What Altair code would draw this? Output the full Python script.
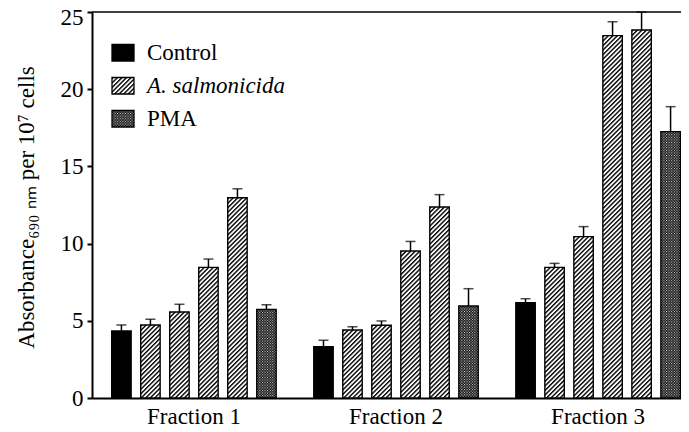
import altair as alt
import pandas as pd
from urllib.parse import quote

# ---- data ----
fractions = ["Fraction 1", "Fraction 2", "Fraction 3"]
series = ["Control", "A. salmonicida 1", "A. salmonicida 2",
          "A. salmonicida 3", "A. salmonicida 4", "PMA"]

f1_values = [4.34, 4.73, 5.57, 8.46, 12.97, 5.74]
f1_errors = [0.39, 0.37, 0.50, 0.54, 0.58, 0.30]
f2_values = [3.32, 4.40, 4.71, 9.52, 12.37, 5.96]
f2_errors = [0.42, 0.22, 0.28, 0.62, 0.80, 1.12]
f3_values = [6.17, 8.46, 10.45, 23.47, 23.83, 17.25]
f3_errors = [0.26, 0.26, 0.65, 0.90, 1.17, 1.62]

legend_labels = ["Control", "A. salmonicida", "PMA"]
y_ticks = [0, 5, 10, 15, 20, 25]
y_title = "Absorbance\u2086\u2089\u2080 \u2099\u2098 per 10\u2077 cells"

rows = []
for f, vals, errs in zip(fractions, [f1_values, f2_values, f3_values],
                         [f1_errors, f2_errors, f3_errors]):
    for s, v, e in zip(series, vals, errs):
        rows.append({"fraction": f, "series": s, "value": v, "err": e})
df = pd.DataFrame(rows)

# ---- fill patterns (SVG images) ----
def svg_url(svg):
    return "data:image/svg+xml;charset=utf-8," + quote(svg)

hatch_url = svg_url(
    "<svg xmlns='http://www.w3.org/2000/svg' width='100%' height='100%'>"
    "<defs><pattern id='p' width='3.2' height='3.2' patternUnits='userSpaceOnUse' "
    "patternTransform='rotate(45)'>"
    "<rect width='3.2' height='3.2' fill='white'/>"
    "<rect width='1.4' height='3.2' fill='black'/></pattern></defs>"
    "<rect width='100%' height='100%' fill='url(#p)'/></svg>")
dots_url = svg_url(
    "<svg xmlns='http://www.w3.org/2000/svg' width='100%' height='100%'>"
    "<defs><pattern id='q' width='2.6' height='2.6' patternUnits='userSpaceOnUse'>"
    "<rect width='2.6' height='2.6' fill='black'/>"
    "<rect x='0' y='0' width='1' height='1' fill='white'/>"
    "<rect x='1.3' y='1.3' width='1' height='1' fill='white'/></pattern></defs>"
    "<rect width='100%' height='100%' fill='url(#q)'/></svg>")

FONT = "Liberation Serif"

x_enc = alt.X("fraction:N", sort=fractions,
              scale=alt.Scale(range=[0, 608], paddingInner=0.186, paddingOuter=0.0975),
              axis=alt.Axis(title=None, labelAngle=0, ticks=False, labelPadding=7,
                            domainWidth=2, domainColor="black", labelFont=FONT,
                            labelFontSize=23, labelColor="black", grid=False))
xo_enc = alt.XOffset("series:N", sort=series,
                     scale=alt.Scale(paddingInner=0.33, paddingOuter=0))
y_axis = alt.Axis(values=y_ticks, title=y_title, grid=False, domainWidth=2,
                  domainColor="black", tickColor="black", tickWidth=2, tickSize=5,
                  labelPadding=4, labelFont=FONT, labelFontSize=23, labelColor="black",
                  labelOffset={"condition": {"test": "datum.value == 25", "value": 5},
                               "value": 0},
                  titleFont=FONT, titleFontSize=23, titleFontWeight="normal",
                  titleColor="black", titleAngle=270, titleX=-59, titleY=195,
                  titleAlign="center", titleBaseline="alphabetic")
y_scale = alt.Scale(domain=[0, 25], nice=False)


def y_enc(field):
    return alt.Y(field, scale=y_scale, axis=y_axis)


base = alt.Chart(df)

hatch_img = base.transform_filter(
    "indexof(datum.series, 'salmonicida') >= 0"
).mark_image(aspect=False).encode(
    x=x_enc, xOffset=xo_enc, y=y_enc("value:Q"), y2=alt.datum(0),
    url=alt.value(hatch_url))

dots_img = base.transform_filter("datum.series == 'PMA'").mark_image(aspect=False).encode(
    x=x_enc, xOffset=xo_enc, y=y_enc("value:Q"), y2=alt.datum(0),
    url=alt.value(dots_url))

bars = base.mark_bar(stroke="black", strokeWidth=1.4).encode(
    x=x_enc, xOffset=xo_enc, y=y_enc("value:Q"),
    fill=alt.condition(alt.datum.series == "Control", alt.value("black"),
                       alt.value("transparent")))

err_rule = base.transform_calculate(top="datum.value + datum.err").mark_rule(
    color="black", strokeWidth=1.5).encode(
    x=x_enc, xOffset=xo_enc, y=y_enc("value:Q"), y2=alt.Y2("top:Q"))

err_cap = base.transform_calculate(top="datum.value + datum.err").mark_tick(
    color="black", thickness=1.5, size=10).encode(
    x=x_enc, xOffset=xo_enc, y=y_enc("top:Q"))

top_line = alt.Chart(pd.DataFrame({"k": [0]})).mark_rule(
    color="black", strokeWidth=1.5).encode(
    y=alt.datum(25), x=alt.value(0), x2=alt.value(620))

layers = [hatch_img, dots_img, bars, err_rule, err_cap, top_line]

legend_urls = [None, hatch_url, dots_url]
legend_styles = ["normal", "italic", "normal"]
for i, (lab, url, sty) in enumerate(zip(legend_labels, legend_urls, legend_styles)):
    ld = pd.DataFrame({"label": [lab]})
    top = 32.5 + 33 * i
    pos = dict(x=alt.value(20), x2=alt.value(42), y=alt.value(top), y2=alt.value(top + 16.5))
    if url is not None:
        layers.append(alt.Chart(ld).mark_image(aspect=False).encode(url=alt.value(url), **pos))
        layers.append(alt.Chart(ld).mark_rect(fill="transparent", stroke="black",
                                              strokeWidth=1.3).encode(**pos))
    else:
        layers.append(alt.Chart(ld).mark_rect(fill="black", stroke="black",
                                              strokeWidth=1.3).encode(**pos))
    layers.append(alt.Chart(ld).mark_text(
        align="left", baseline="middle", font=FONT, fontSize=23, fontStyle=sty,
        color="black").encode(x=alt.value(55), y=alt.value(top + 8.5), text="label:N"))

chart = alt.layer(*layers).properties(
    width=589, height=386,
    autosize=alt.AutoSizeParams(type="none"),
    padding={"left": 84, "top": 4, "right": 0, "bottom": 30},
    background="white",
).configure_view(stroke=None)

chart.save("out.html", embed_options={"renderer": "svg", "actions": False})
